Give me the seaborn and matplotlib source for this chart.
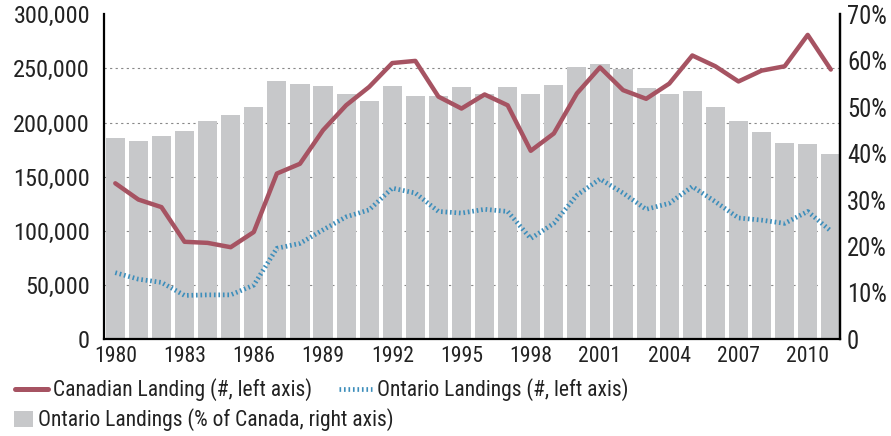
import numpy as np
import pandas as pd
import matplotlib
matplotlib.use("Agg")
import matplotlib.pyplot as plt
from matplotlib import font_manager as fm
from matplotlib.ticker import FixedLocator, MultipleLocator, FuncFormatter
from matplotlib.lines import Line2D
from matplotlib.patches import Patch
import seaborn as sns

years = list(range(1980, 2012))
canada_landings = [144, 129, 122, 90, 89, 85, 99, 153, 162, 193, 216, 233, 255, 257, 224,
                   213, 226, 216, 174, 190, 227, 251, 230, 222, 236, 262, 252, 238, 248, 252,
                   281, 249]
canada_landings = [v * 1000 for v in canada_landings]
ontario_landings = [61.5, 55.5, 52.5, 40.5, 41, 41, 50, 84, 88.5, 101, 113, 119.5, 139.5, 135, 118,
                    116.5, 120, 118, 93, 107, 133, 148, 135, 120, 125.5, 141, 127, 112, 110, 107,
                    118, 100]
ontario_landings = [v * 1000 for v in ontario_landings]
ontario_share = [43.4, 42.7, 43.8, 44.9, 47.0, 48.3, 50.0, 55.6, 55.0, 54.6, 52.8, 51.3, 54.6,
                 52.4, 52.4, 54.3, 52.8, 54.3, 52.8, 54.8, 58.6, 59.3, 58.2, 54.1, 52.8, 53.5,
                 50.0, 47.0, 44.7, 42.3, 42.1, 39.9]
label_years = list(range(1980, 2011, 3))
left_ticks = list(range(0, 300001, 50000))
right_ticks = list(range(0, 71, 10))

df = pd.DataFrame({"year": years, "canada": canada_landings,
                   "ontario": ontario_landings, "share": ontario_share})

sns.set_theme(style="white")

# pick a narrow font if one is installed
fonts = fm.fontManager.ttflist
choice = ("Lato", "normal")
cands = [("Liberation Sans Narrow", "normal"), ("Roboto Condensed", "normal"),
         ("DejaVu Sans", "condensed"), ("Open Sans Condensed", "normal"), ("Lato", "normal")]
for name, stretch in cands:
    ok = False
    for f in fonts:
        if f.name == name:
            if stretch == "normal":
                ok = True
            elif isinstance(f.stretch, str) and "condensed" in f.stretch:
                ok = True
            elif isinstance(f.stretch, (int, float)) and f.stretch < 500:
                ok = True
    if ok:
        choice = (name, stretch)
        break
FAM, STRETCH = choice
plt.rcParams["font.family"] = [FAM, "DejaVu Sans"]
plt.rcParams["font.stretch"] = STRETCH

RED = "#A65362"
BLUE = "#3D8EBB"
GRAY = "#C7C8CA"
TXT = "#222222"

fig = plt.figure(figsize=(8.91, 4.36), dpi=100)
renderer = fig.canvas.get_renderer()


def fit_size(text, target_px, base=16.0):
    t = fig.text(0, 0, text, fontsize=base)
    w = t.get_window_extent(renderer).width
    t.remove()
    return base * target_px / w


ytick_fs = min(fit_size("300,000", 77), 18)
xtick_fs = min(fit_size("2001", 43), 18)
rtick_fs = min(fit_size("70%", 40), 18)
leg_fs = min(fit_size("Canadian Landing (#, left axis)", 260), 18)
em = leg_fs * 100 / 72.0  # legend em in pixels

ax = fig.add_axes([0.1167, 0.2218, 0.8261, 0.7454])
ax2 = ax.twinx()

# bars on right axis (percent)
sns.barplot(data=df, x="year", y="share", native_scale=True, color=GRAY,
            width=0.83, ax=ax2, saturation=1, edgecolor="none")
ax2.set_ylim(0, 70)
ax2.yaxis.set_major_locator(FixedLocator(right_ticks))
ax2.yaxis.set_major_formatter(FuncFormatter(lambda v, p: "0" if v == 0 else f"{v:.0f}%"))
ax2.yaxis.set_minor_locator(MultipleLocator(70 / 6))
ax2.grid(False)
ax2.grid(which="minor", axis="y", color="#888888", linestyle=(0, (2, 3)), linewidth=0.8)
ax2.set_axisbelow(True)
ax2.tick_params(axis="y", which="both", length=0, pad=5, labelsize=rtick_fs, colors=TXT)
ax2.set_ylabel("")

# lines on left axis
sns.lineplot(data=df, x="year", y="canada", color=RED, linewidth=3.2, ax=ax)
sns.lineplot(data=df, x="year", y="ontario", color=BLUE, linewidth=3.4,
             linestyle=(0, (0.35, 0.6)), ax=ax)
ax.set_ylim(0, 300000)
ax.yaxis.set_major_locator(FixedLocator(left_ticks))
ax.yaxis.set_major_formatter(FuncFormatter(lambda v, p: f"{v:,.0f}"))
ax.tick_params(axis="y", length=0, pad=10, labelsize=ytick_fs, colors=TXT)
ax.set_xlim(years[0] - 0.49, years[-1] + 0.4)
ax.xaxis.set_major_locator(FixedLocator(label_years))
ax.xaxis.set_minor_locator(FixedLocator([y + 0.5 for y in years[:-1]]))
ax.tick_params(axis="x", which="major", length=0, pad=5, labelsize=xtick_fs, colors=TXT)
ax.tick_params(axis="x", which="minor", direction="in", length=5, width=1.5, color="black")
ax.set_xlabel("")
ax.set_ylabel("")
ax.grid(False)

ax.set_zorder(ax2.get_zorder() + 1)
ax.patch.set_visible(False)

for a in (ax, ax2):
    a.spines["top"].set_visible(False)
    for s in ("left", "right", "bottom"):
        a.spines[s].set_color("black")
        a.spines[s].set_linewidth(1.6)
ax2.spines["left"].set_visible(False)
ax2.spines["bottom"].set_visible(False)

h1 = [Line2D([], [], color=RED, linewidth=3.6),
      Line2D([], [], color=BLUE, linewidth=3.4, linestyle=(0, (0.35, 0.6)))]
fig.legend(h1, ["Canadian Landing (#, left axis)", "Ontario Landings (#, left axis)"],
           loc="center left", bbox_to_anchor=(15 / 891, 0.1055), ncol=2, frameon=False,
           fontsize=leg_fs, handlelength=33 / em, handletextpad=5 / em,
           columnspacing=27 / em, borderpad=0, borderaxespad=0, labelcolor=TXT)
fig.legend([Patch(facecolor=GRAY, edgecolor="none")],
           ["Ontario Landings (% of Canada, right axis)"],
           loc="center left", bbox_to_anchor=(14 / 891, 0.0367), frameon=False,
           fontsize=leg_fs, handlelength=19 / em, handleheight=17 / em,
           handletextpad=5 / em, borderpad=0, borderaxespad=0, labelcolor=TXT)

fig.savefig("out.png", dpi=100)
